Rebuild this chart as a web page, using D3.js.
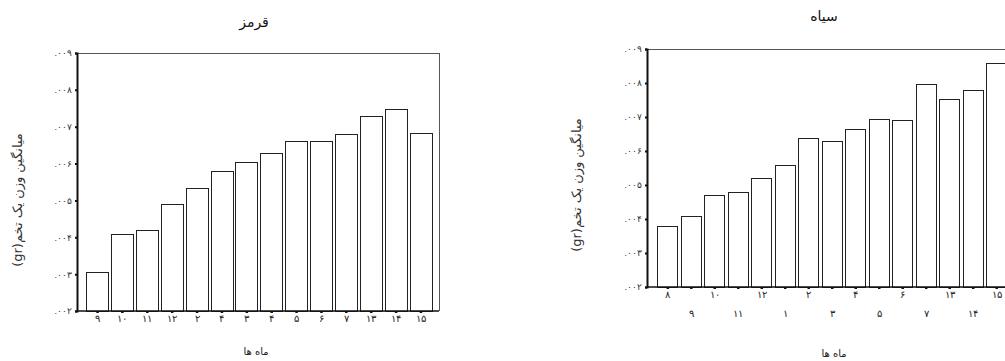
<!DOCTYPE html>
<html>
<head>
<meta charset="utf-8">
<script src="https://cdn.jsdelivr.net/npm/d3@7"></script>
<style>
  body { margin: 0; background: #fff; }
  svg { display: block; font-family: "DejaVu Sans", "Liberation Serif", sans-serif; }
</style>
</head>
<body>
<svg id="chart" width="1005" height="361"></svg>
<script>
// month labels under each bar
const redMonths = ["۹", "۱۰", "۱۱", "۱۲", "۲", "۴", "۳", "۴", "۵", "۶", "۷", "۱۳", "۱۴", "۱۵"];
const blackMonths = ["۸", "۹", "۱۰", "۱۱", "۱۲", "۱", "۲", "۳", "۴", "۵", "۶", "۷", "۱۳", "۱۴", "۱۵"];

// mean egg weight (gr)
const redValues = [0.00306, 0.00408, 0.00419, 0.00491, 0.00533, 0.00580, 0.00604, 0.00628,
                   0.00660, 0.00660, 0.00679, 0.00728, 0.00747, 0.00684];
const blackValues = [0.00378, 0.00408, 0.00472, 0.00479, 0.00522, 0.00559, 0.00638, 0.00628,
                     0.00664, 0.00693, 0.00690, 0.00798, 0.00752, 0.00780, 0.00860];

const yTickValues = [0.002, 0.003, 0.004, 0.005, 0.006, 0.007, 0.008, 0.009];
const yTickLabels = [".۰۰۲", ".۰۰۳", ".۰۰۴", ".۰۰۵", ".۰۰۶", ".۰۰۷", ".۰۰۸", ".۰۰۹"];

const yTitle = "میانگین وزن یک تخم(gr)";
const xTitle = "ماه ها";

const svg = d3.select("#chart");

function drawPanel(cfg) {
    const g = svg.append("g");
    const idx = cfg.values.map((d, i) => i);

    const x = d3.scaleBand()
        .domain(idx)
        .range([cfg.bandLeft, cfg.bandRight])
        .paddingInner(0.09)
        .paddingOuter(0.09);
    const y = d3.scaleLinear()
        .domain([0.002, 0.009])
        .range([cfg.bottom, cfg.top]);

    // frame (top and right, thin gray)
    g.append("line")
        .attr("x1", cfg.left).attr("x2", cfg.right)
        .attr("y1", cfg.top + 0.5).attr("y2", cfg.top + 0.5)
        .attr("stroke", "#555").attr("stroke-width", 1);
    g.append("line")
        .attr("x1", cfg.right + 0.5).attr("x2", cfg.right + 0.5)
        .attr("y1", cfg.top).attr("y2", cfg.bottom)
        .attr("stroke", "#555").attr("stroke-width", 1);

    // bars
    g.selectAll("rect.bar")
        .data(cfg.values)
        .enter()
        .append("rect")
        .attr("class", "bar")
        .attr("x", (d, i) => Math.round(x(i)) + 0.5)
        .attr("y", d => Math.round(y(d)) + 0.5)
        .attr("width", Math.round(x.bandwidth()) - 1)
        .attr("height", d => cfg.bottom - Math.round(y(d)))
        .attr("fill", "#fff")
        .attr("stroke", "#222")
        .attr("stroke-width", 1);

    // y axis
    const yAxis = d3.axisLeft(y)
        .tickValues(yTickValues)
        .tickFormat((d, i) => yTickLabels[i])
        .tickSize(2)
        .tickPadding(3);
    const ya = g.append("g")
        .attr("transform", "translate(" + cfg.left + ",0)")
        .call(yAxis);
    ya.select(".domain").attr("stroke", "#111").attr("stroke-width", 2);
    ya.selectAll(".tick line").attr("stroke", "#111").attr("stroke-width", 2);
    ya.selectAll(".tick text")
        .attr("fill", "#333")
        .style("font-size", "9px")
        .style("direction", "ltr");

    // x axis
    const xAxis = d3.axisBottom(x)
        .tickFormat(i => cfg.labels[i])
        .tickSize(2)
        .tickSizeOuter(0)
        .tickPadding(3);
    const xa = g.append("g")
        .attr("transform", "translate(0," + cfg.bottom + ")")
        .call(xAxis);
    xa.select(".domain")
        .attr("d", "M" + cfg.left + ",0H" + cfg.right)
        .attr("stroke", "#111").attr("stroke-width", 1.5);
    xa.selectAll(".tick line").attr("stroke", "#111").attr("stroke-width", 2.5);
    xa.selectAll(".tick text")
        .attr("fill", "#222")
        .style("font-size", "10px")
        .attr("y", (i) => (cfg.stagger && i % 2 === 1) ? 22 : 3)
        .attr("dy", "0.8em");

    // titles
    g.append("text")
        .attr("x", cfg.titleX).attr("y", cfg.titleY)
        .attr("text-anchor", "middle")
        .style("font-size", "14px")
        .attr("fill", "#111")
        .text(cfg.title);
    g.append("text")
        .attr("transform", "translate(" + cfg.yTitleX + "," + cfg.yTitleY + ") rotate(-90)")
        .attr("text-anchor", "middle")
        .attr("direction", "rtl")
        .style("direction", "rtl")
        .style("unicode-bidi", "embed")
        .attr("dy", "0.35em")
        .style("font-size", "13px")
        .attr("fill", "#333")
        .text(yTitle);
    g.append("text")
        .attr("x", cfg.xTitleX).attr("y", cfg.xTitleY)
        .attr("text-anchor", "middle")
        .style("font-size", "10px")
        .attr("fill", "#222")
        .text(xTitle);
}

drawPanel({
    title: "قرمز", values: redValues, labels: redMonths, stagger: false,
    left: 77, right: 439, top: 53, bottom: 311,
    bandLeft: 84, bandRight: 434.5,
    titleX: 254, titleY: 27,
    yTitleX: 17, yTitleY: 200,
    xTitleX: 256, xTitleY: 355
});

drawPanel({
    title: "سیاه", values: blackValues, labels: blackMonths, stagger: true,
    left: 647, right: 1016, top: 49, bottom: 287,
    bandLeft: 655, bandRight: 1009.5,
    titleX: 824, titleY: 21,
    yTitleX: 576, yTitleY: 185,
    xTitleX: 834, xTitleY: 357
});
</script>
</body>
</html>
